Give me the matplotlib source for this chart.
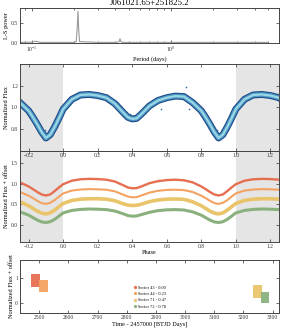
import numpy as np
import matplotlib.pyplot as plt
from matplotlib.lines import Line2D

plt.rcParams['font.family'] = ['Liberation Serif', 'DejaVu Serif']
plt.rcParams['mathtext.fontset'] = 'stix'

# ---- data ----
title = 'J061021.65+251825.2'

# Lomb-Scargle periodogram
ls_period = [0.082, 0.1, 0.107, 0.115, 0.15, 0.2, 0.209, 0.212, 0.215, 0.218, 0.221,
             0.3, 0.41, 0.425, 0.431, 0.437, 0.45, 1.0, 3.0, 5.0]
ls_power = [0.01, 0.015, 0.04, 0.01, 0.01, 0.01, 0.03, 0.3, 0.78, 0.3, 0.03,
            0.01, 0.01, 0.03, 0.1, 0.03, 0.01, 0.01, 0.01, 0.01]

# phase grid (one cycle) for the folded curves
phase_grid = [0.0, 0.05, 0.1, 0.15, 0.2, 0.25, 0.3, 0.35, 0.375, 0.4, 0.425, 0.45, 0.5,
              0.55, 0.6, 0.65, 0.7, 0.75, 0.8, 0.825, 0.85, 0.875, 0.9, 0.925, 0.95, 0.975]

# all sectors folded together (centre of the band)
fold_flux = [0.985, 1.075, 1.115, 1.12, 1.11, 1.09, 1.035, 0.95, 0.91, 0.895, 0.90, 0.935, 1.015,
             1.065, 1.09, 1.105, 1.10, 1.045, 0.97, 0.91, 0.845, 0.775, 0.72, 0.75, 0.82, 0.90]

# a few stray points
outlier_phase = [0.71, 0.567, 0.726, 0.388, 0.892]
outlier_flux = [1.19, 0.985, 0.985, 0.94, 0.79]

# per sector folded curves, offset already applied
sectors = ['43', '44', '71', '72']
offsets = [0.00, 0.23, 0.47, 0.78]
s43_flux = [0.99, 1.075, 1.11, 1.12, 1.115, 1.10, 1.055, 0.96, 0.91, 0.89, 0.895, 0.93, 1.015,
            1.065, 1.09, 1.10, 1.085, 1.035, 0.935, 0.87, 0.80, 0.74, 0.715, 0.74, 0.82, 0.91]
s44_flux = [0.765, 0.835, 0.86, 0.87, 0.865, 0.855, 0.815, 0.73, 0.69, 0.67, 0.675, 0.71, 0.785,
            0.83, 0.85, 0.855, 0.845, 0.80, 0.71, 0.65, 0.585, 0.53, 0.51, 0.535, 0.60, 0.685]
s71_flux = [0.52, 0.595, 0.625, 0.635, 0.635, 0.625, 0.585, 0.51, 0.48, 0.47, 0.475, 0.50, 0.565,
            0.605, 0.625, 0.63, 0.62, 0.56, 0.465, 0.40, 0.335, 0.285, 0.265, 0.29, 0.355, 0.44]
s72_flux = [0.29, 0.35, 0.375, 0.385, 0.38, 0.37, 0.335, 0.265, 0.225, 0.21, 0.215, 0.245, 0.305,
            0.345, 0.365, 0.37, 0.36, 0.315, 0.235, 0.175, 0.115, 0.07, 0.055, 0.075, 0.13, 0.21]

# time coverage and flux range of each sector (offset applied)
sector_start = [2471, 2499, 3233, 3259]
sector_end = [2501, 2529, 3263, 3288]
sector_lo = [0.66, 0.43, 0.20, 0.00]
sector_hi = [1.16, 0.95, 0.74, 0.45]

colors = ['#e76f51', '#f4a261', '#e9c46a', '#8ab17d']


def style(ax):
    ax.tick_params(which='both', direction='in', top=True, right=True,
                   labelsize=4, pad=1.5, width=0.5, colors='#333333')
    ax.tick_params(which='major', length=2.2)
    ax.tick_params(which='minor', length=1.2)
    for s in ax.spines.values():
        s.set_linewidth(0.7)
        s.set_color('#444444')


def three_cycles(p, f):
    p = np.asarray(p)
    return np.concatenate([p - 1, p, p + 1]), np.tile(f, 3)


W, H = 286, 330
fig = plt.figure(figsize=(W / 100, H / 100), dpi=100)


def box(top, bottom):
    return [20 / W, 1 - bottom / H, 259 / W, (bottom - top) / H]


# periodogram
ax1 = fig.add_axes(box(8, 43))
ax1.plot(ls_period, ls_power, color='#9a9a9a', lw=0.8)
ax1.set_xscale('log')
ax1.set_xlim(0.0824, 6.0)
ax1.set_ylim(-0.005, 0.86)
ax1.set_yticks([0.0, 0.5])
ax1.set_xlabel('Period (days)', fontsize=4.5, labelpad=1)
ax1.set_ylabel('L-S power', fontsize=4.5, labelpad=1)
ax1.set_title(title, fontsize=6.3, pad=2)
style(ax1)

# folded light curve, all sectors
ax2 = fig.add_axes(box(64, 151))
ax2.axvspan(-0.25, 0.0, color='#e5e5e5', lw=0)
ax2.axvspan(1.0, 1.25, color='#e5e5e5', lw=0)
px, fx = three_cycles(phase_grid, fold_flux)
ax2.plot(px, fx, color='#1f4a88', lw=5.0, solid_capstyle='round')
ax2.plot(px, fx, color='#4b97c2', lw=3.4)
ax2.plot(px, fx, color='#9ad6e6', lw=1.6)
ox, oy = three_cycles(outlier_phase, outlier_flux)
ax2.scatter(ox, oy, s=1.5, color='#3b6fb0', lw=0, zorder=3)
ax2.set_xlim(-0.25, 1.25)
ax2.set_ylim(0.6, 1.4)
ax2.set_yticks([0.8, 1.0, 1.2])
ax2.set_xticks(np.arange(-0.2, 1.3, 0.2))
ax2.set_ylabel('Normalized Flux', fontsize=4.5, labelpad=1)
style(ax2)

# folded light curve, sectors offset
ax3 = fig.add_axes(box(151, 242))
ax2.set_zorder(ax3.get_zorder() + 1)
ax2.patch.set_alpha(0)
ax3.axvspan(-0.25, 0.0, color='#e5e5e5', lw=0)
ax3.axvspan(1.0, 1.25, color='#e5e5e5', lw=0)
widths = [1.7, 1.5, 2.6, 2.2]
for curve, c, w in zip([s43_flux, s44_flux, s71_flux, s72_flux], colors, widths):
    px, fx = three_cycles(phase_grid, curve)
    ax3.plot(px, fx, color=c, lw=w)
ax3.set_xlim(-0.25, 1.25)
ax3.set_ylim(-0.42, 1.8)
ax3.set_yticks([0.0, 0.5, 1.0, 1.5])
ax3.set_xticks(np.arange(-0.2, 1.3, 0.2))
ax3.set_xlabel('Phase', fontsize=4.5, labelpad=1)
ax3.set_ylabel('Normalized Flux + offset', fontsize=4.5, labelpad=1)
style(ax3)

# time series
ax4 = fig.add_axes(box(260, 313))
handles = []
for i in range(len(sectors)):
    ax4.fill_between([sector_start[i], sector_end[i]], sector_lo[i], sector_hi[i],
                     color=colors[i], alpha=0.95, lw=0)
    handles.append(Line2D([], [], marker='o', ls='', ms=1.3, color=colors[i],
                          label='Sector %s - %.2f' % (sectors[i], offsets[i])))
ax4.legend(handles=handles, loc='center', bbox_to_anchor=(0.5, 0.3), frameon=False,
           fontsize=3.2, handletextpad=0.2, labelspacing=0.5, handlelength=1)
ax4.set_xlim(2434, 3322)
ax4.set_ylim(-0.42, 1.75)
ax4.set_yticks([0, 1])
ax4.set_xticks(np.arange(2500, 3301, 100))
ax4.set_xlabel('Time - 2457000 [BTJD Days]', fontsize=4.5, labelpad=1)
ax4.set_ylabel('Normalized Flux + offset', fontsize=4.5, labelpad=1)
style(ax4)

fig.savefig('out.png', dpi=100)
